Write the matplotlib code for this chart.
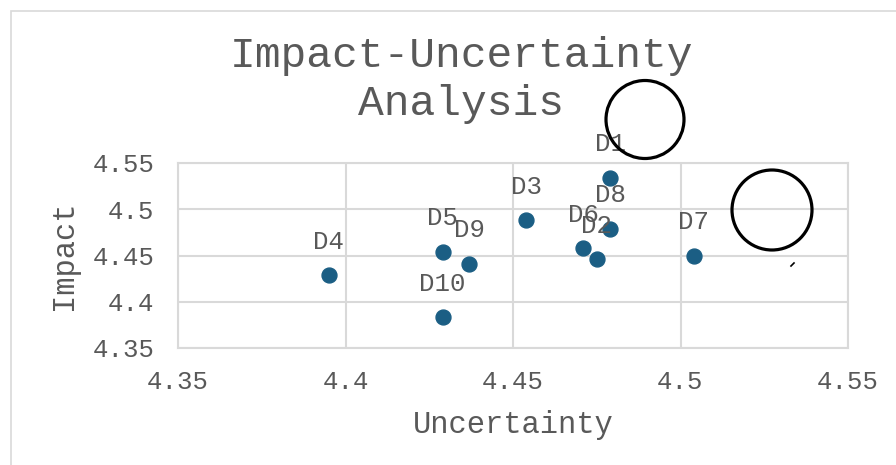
import matplotlib.pyplot as plt
from matplotlib.patches import Ellipse, Rectangle
from matplotlib.lines import Line2D

labels = ["D1", "D2", "D3", "D4", "D5", "D6", "D7", "D8", "D9", "D10"]
uncertainty = [4.479, 4.475, 4.454, 4.395, 4.429, 4.471, 4.504, 4.479, 4.437, 4.429]
impact = [4.534, 4.446, 4.488, 4.429, 4.454, 4.458, 4.450, 4.479, 4.441, 4.383]
ticks = [4.35, 4.4, 4.45, 4.5, 4.55]
tick_labels = ["4.35", "4.4", "4.45", "4.5", "4.55"]

font = "Liberation Mono"
grey = "#595959"
grid_col = "#d9d9d9"
dot_col = "#1b5e84"

W, H = 896, 465
fig = plt.figure(figsize=(W / 100, H / 100), dpi=100)
fig.patch.set_facecolor("white")

# outer chart border (Excel chart area)
fig.add_artist(Rectangle((10.5 / W, -0.1), 1.0, (H - 11) / H + 0.1, transform=fig.transFigure,
                         fill=False, edgecolor=grid_col, linewidth=1.2))

ax = fig.add_axes([178 / W, 1 - 348 / H, (848 - 178) / W, (348 - 163) / H])
ax.set_xlim(4.35, 4.55)
ax.set_ylim(4.35, 4.55)
ax.set_xticks(ticks)
ax.set_yticks(ticks)
ax.set_xticklabels(tick_labels)
ax.set_yticklabels(tick_labels)
ax.grid(True, color=grid_col, linewidth=1.5)
ax.set_axisbelow(True)
for s in ax.spines.values():
    s.set_color(grid_col)
    s.set_linewidth(1.5)
ax.tick_params(length=0, labelsize=18.5, labelcolor=grey)
ax.tick_params(axis="x", pad=16)
ax.tick_params(axis="y", pad=17)
for t in ax.get_xticklabels() + ax.get_yticklabels():
    t.set_fontfamily(font)

ax.scatter(uncertainty, impact, s=115, color=dot_col, zorder=3, clip_on=False)
for lab, x, y in zip(labels, uncertainty, impact):
    ax.annotate(lab, (x, y), xytext=(0, 24), textcoords="offset points",
                ha="center", va="center", fontsize=18.5, color=grey, fontfamily=font)

ax.set_xlabel("Uncertainty", fontsize=22, color=grey, fontfamily=font, labelpad=11)
ax.set_ylabel("Impact", fontsize=22, color=grey, fontfamily=font, labelpad=10)

fig.text(461 / W, 1 - 80 / H, "Impact-Uncertainty\nAnalysis", ha="center", va="center",
         fontsize=31, color=grey, fontfamily=font, linespacing=1.25)

# hand-drawn circles on top of the chart
fig.add_artist(Ellipse((645 / W, 1 - 119.5 / H), 78 / W, 78 / H, transform=fig.transFigure,
                       fill=False, edgecolor="black", linewidth=2.3))
fig.add_artist(Ellipse((772 / W, 1 - 210 / H), 80 / W, 80 / H, transform=fig.transFigure,
                       fill=False, edgecolor="black", linewidth=2.3))
fig.add_artist(Line2D([791 / W, 794 / W], [1 - 266 / H, 1 - 263 / H], transform=fig.transFigure,
                      color="black", linewidth=1.2))

fig.savefig("out.png", dpi=100)
